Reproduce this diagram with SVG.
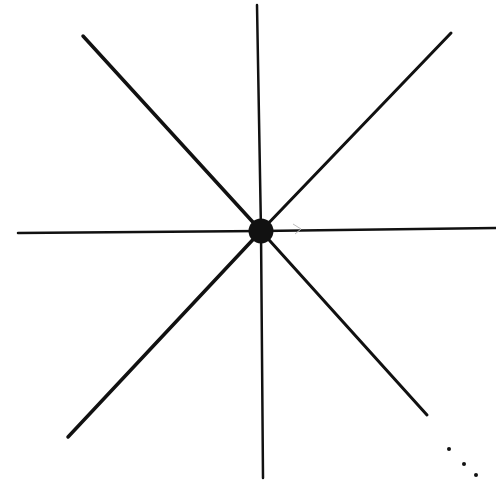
<svg xmlns="http://www.w3.org/2000/svg" width="496" height="483" viewBox="0 0 496 483">
<style>
.ray{stroke:#111;stroke-linecap:round;fill:none}
.thin{stroke-width:2.5}
.diag{stroke-width:3}
.dot{fill:#111}
</style>
<rect width="496" height="483" fill="#fff"/>
<g id="connectors">
<line class="ray thin" x1="257" y1="5" x2="261" y2="231"/>
<line class="ray thin" x1="261" y1="231" x2="263" y2="478"/>
<line class="ray thin" x1="18" y1="233" x2="261" y2="231"/>
<line class="ray thin" x1="261" y1="231" x2="496" y2="228"/>
<line class="ray diag" x1="83" y1="36" x2="261" y2="231" style="stroke-width:3.5"/>
<line class="ray diag" x1="451" y1="33" x2="261" y2="231"/>
<line class="ray diag" x1="68" y1="437" x2="261" y2="231" style="stroke-width:3.5"/>
<line class="ray diag" x1="427" y1="415" x2="261" y2="231"/>
<path d="M293 224 L301 229 L295 234" stroke="#bbb" stroke-width="1" fill="none"/>
</g>
<g id="center">
<circle cx="261" cy="231" r="12.5" class="dot"/>
</g>
<g id="ellipsis">
<circle cx="449" cy="449" r="2" class="dot"/>
<circle cx="464" cy="464" r="2" class="dot"/>
<circle cx="476" cy="475" r="2" class="dot"/>
</g>
</svg>
